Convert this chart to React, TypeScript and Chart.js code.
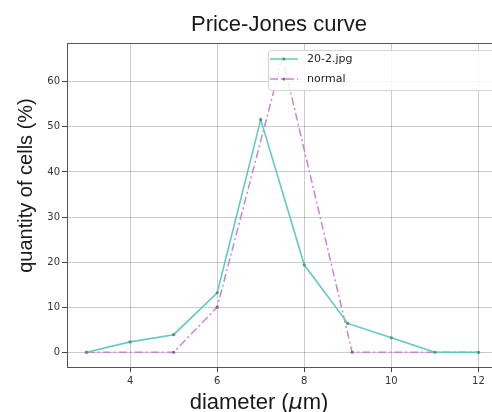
import { useEffect, useRef } from 'react';
import { Chart, registerables } from 'chart.js';

Chart.register(...registerables);

const seriesLabels = ['20-2.jpg', 'normal'];
const greenX = [3, 4, 5, 6, 7, 8, 9, 10, 11, 12];
const greenY = [0, 2.3, 3.9, 13.2, 51.6, 19.4, 6.4, 3.2, 0, 0];
const normalX = [3, 5, 6, 7.5, 9.1, 12];
const normalY = [0, 0, 10, 65.3, 0, 0];
const xTicks = [4, 6, 8, 10, 12];
const yTicks = [0, 10, 20, 30, 40, 50, 60];
const titleText = 'Price-Jones curve';
const xLabelMain = 'diameter (';
const xLabelMu = 'μ';
const xLabelEnd = 'm)';
const yLabelText = 'quantity of cells (%)';

const SANS = '"Liberation Sans", Arial, sans-serif';
const DEJAVU = '"DejaVu Sans", sans-serif';

const textPlugin = {
  id: 'textPlugin',
  afterDraw(chart: any) {
    const ctx = chart.ctx as CanvasRenderingContext2D;
    const a = chart.chartArea;
    ctx.save();
    // top spine
    ctx.strokeStyle = '#555';
    ctx.lineWidth = 1;
    ctx.beginPath();
    ctx.moveTo(a.left, a.top + 0.5);
    ctx.lineTo(a.right, a.top + 0.5);
    ctx.stroke();

    // title
    ctx.fillStyle = '#1a1a1a';
    ctx.font = `22px ${SANS}`;
    ctx.textAlign = 'center';
    ctx.textBaseline = 'alphabetic';
    ctx.fillText(titleText, 279, 31);

    // x label
    ctx.textAlign = 'left';
    const f1 = `22px ${SANS}`;
    const f2 = `italic 22px ${DEJAVU}`;
    ctx.font = f1;
    const w1 = ctx.measureText(xLabelMain).width;
    ctx.font = f2;
    const w2 = ctx.measureText(xLabelMu).width;
    ctx.font = f1;
    const w3 = ctx.measureText(xLabelEnd).width;
    let sx = 259 - (w1 + w2 + w3) / 2;
    ctx.font = f1;
    ctx.fillText(xLabelMain, sx, 409);
    sx += w1;
    ctx.font = f2;
    ctx.fillText(xLabelMu, sx, 409);
    sx += w2;
    ctx.font = f1;
    ctx.fillText(xLabelEnd, sx, 409);

    // y label
    ctx.save();
    ctx.translate(32, 185.5);
    ctx.rotate(-Math.PI / 2);
    ctx.font = `20px ${SANS}`;
    ctx.textAlign = 'center';
    ctx.fillText(yLabelText, 0, 0);
    ctx.restore();

    // legend
    const bx = 268, by = 50, bw = 228, bh = 40;
    ctx.fillStyle = 'rgba(255,255,255,0.85)';
    ctx.strokeStyle = '#d4d4d4';
    ctx.lineWidth = 1;
    ctx.beginPath();
    (ctx as any).roundRect(bx + 0.5, by + 0.5, bw, bh, 3);
    ctx.fill();
    ctx.stroke();
    chart.data.datasets.forEach((ds: any, i: number) => {
      const y = 59 + i * 20;
      ctx.strokeStyle = ds.borderColor;
      ctx.lineWidth = 1.5;
      ctx.setLineDash(ds.borderDash || []);
      ctx.beginPath();
      ctx.moveTo(270, y);
      ctx.lineTo(298, y);
      ctx.stroke();
      ctx.setLineDash([]);
      ctx.fillStyle = ds.pointBackgroundColor;
      ctx.beginPath();
      ctx.arc(284, y, 1.6, 0, Math.PI * 2);
      ctx.fill();
      ctx.fillStyle = '#222';
      ctx.font = `11px ${DEJAVU}`;
      ctx.textAlign = 'left';
      ctx.textBaseline = 'middle';
      ctx.fillText(ds.label, 307, y);
    });
    ctx.restore();
  },
};

export default function App() {
  const ref = useRef<HTMLCanvasElement>(null);
  useEffect(() => {
    if (!ref.current) return;
    const chart = new Chart(ref.current, {
      type: 'line',
      data: {
        datasets: [
          {
            label: seriesLabels[0],
            data: greenX.map((x, i) => ({ x, y: greenY[i] })),
            borderColor: '#62c9c3',
            backgroundColor: '#4a9e6c',
            pointBackgroundColor: '#4a9e6c',
            pointBorderColor: '#4a9e6c',
            pointRadius: 1.6,
            pointBorderWidth: 0,
            borderWidth: 1.6,
            tension: 0,
          },
          {
            label: seriesLabels[1],
            data: normalX.map((x, i) => ({ x, y: normalY[i] })),
            borderColor: '#c983d2',
            backgroundColor: '#a0559c',
            pointBackgroundColor: '#a0559c',
            pointBorderColor: '#a0559c',
            pointRadius: 1.6,
            pointBorderWidth: 0,
            borderWidth: 1.5,
            borderDash: [8, 3, 2, 3],
            tension: 0,
          },
        ],
      },
      options: {
        responsive: false,
        maintainAspectRatio: false,
        animation: false,
        layout: { padding: { left: 0, top: 43, right: 12, bottom: 0 } },
        plugins: {
          legend: { display: false },
          title: { display: false },
          tooltip: { enabled: false },
        },
        scales: {
          x: {
            type: 'linear',
            min: 2.55,
            max: 12.45,
            afterBuildTicks: (s: any) => {
              s.ticks = xTicks.map((v) => ({ value: v }));
            },
            afterFit: (s: any) => {
              s.height = 45;
            },
            grid: {
              color: 'rgba(0,0,0,0.2)',
              tickColor: '#444',
              tickLength: 5,
              drawTicks: true,
            },
            border: { color: '#555', width: 1 },
            ticks: {
              font: { family: DEJAVU, size: 10 },
              color: '#333',
              padding: 3,
              maxRotation: 0,
              autoSkip: false,
            },
          },
          y: {
            type: 'linear',
            min: -3.27,
            max: 68.6,
            afterBuildTicks: (s: any) => {
              s.ticks = yTicks.map((v) => ({ value: v }));
            },
            afterFit: (s: any) => {
              s.width = 67;
            },
            grid: {
              color: 'rgba(0,0,0,0.2)',
              tickColor: '#444',
              tickLength: 5,
              drawTicks: true,
            },
            border: { color: '#555', width: 1 },
            ticks: {
              font: { family: DEJAVU, size: 10 },
              color: '#333',
              padding: 2,
              autoSkip: false,
            },
          },
        },
      },
      plugins: [textPlugin],
    });
    return () => chart.destroy();
  }, []);
  return (
    <div style={{ position: 'absolute', left: 0, top: 0, width: 492, height: 412, overflow: 'hidden', background: '#fff' }}>
      <canvas ref={ref} width={510} height={412} style={{ width: 510, height: 412, display: 'block' }} />
    </div>
  );
}
